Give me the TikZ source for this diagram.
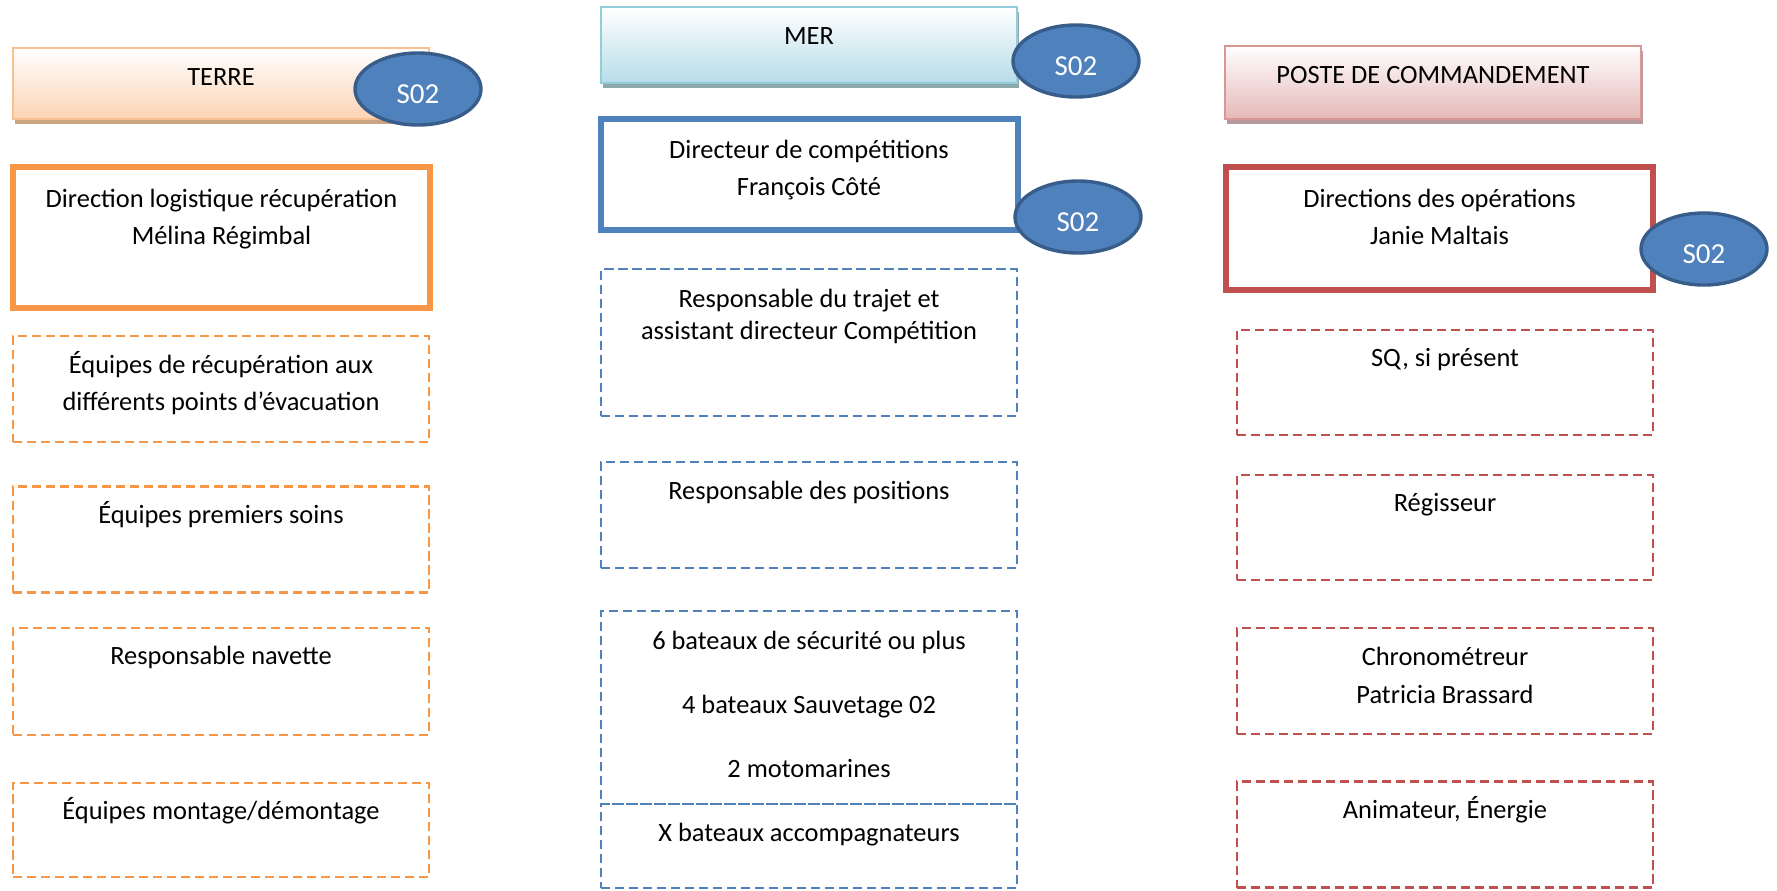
\documentclass[tikz,border=0pt]{standalone}
\usepackage{fontspec}
\setmainfont{Carlito}
\usetikzlibrary{shapes,shadows,positioning}
\definecolor{orgorange}{HTML}{F79646}
\definecolor{orgblue}{HTML}{4F81BD}
\definecolor{orgred}{HTML}{C0504D}
\definecolor{terreline}{HTML}{FAC08F}
\definecolor{terrefill}{HTML}{FBD4B4}
\definecolor{terreshadow}{HTML}{C9A584}
\definecolor{merline}{HTML}{92CDDC}
\definecolor{merfill}{HTML}{B6DDE8}
\definecolor{mershadow}{HTML}{8FA8AE}
\definecolor{pcline}{HTML}{D99694}
\definecolor{pcfill}{HTML}{E5B8B7}
\definecolor{pcshadow}{HTML}{B8999A}
\definecolor{sosline}{HTML}{385D8A}
\newcommand{\orgfont}{\fontsize{13.2pt}{16.2pt}\selectfont}
\tikzset{
    header/.style={
    rectangle,line width=1pt,minimum width=208pt,inner sep=0pt
    },
    hterre/.style={
    header,draw=terreline,top color=white,bottom color=terrefill,
    drop shadow={shadow xshift=1pt,shadow yshift=-2.5pt,fill=terreshadow,opacity=1}
    },
    hmer/.style={
    header,draw=merline,top color=white,bottom color=merfill,
    drop shadow={shadow xshift=1pt,shadow yshift=-2.5pt,fill=mershadow,opacity=1}
    },
    hpc/.style={
    header,draw=pcline,top color=white,bottom color=pcfill,
    drop shadow={shadow xshift=1pt,shadow yshift=-2.5pt,fill=pcshadow,opacity=1}
    },
    chief/.style={
    rectangle,line width=3pt,minimum width=208.5pt,inner sep=0pt
    },
    member/.style={
    rectangle,line width=1.1pt,dash pattern=on 4.6pt off 2.4pt,minimum width=208pt,inner sep=0pt
    },
    sos/.style={
    ellipse,draw=sosline,fill=orgblue,line width=1.7pt,minimum width=63pt,minimum height=36pt,
    inner sep=0pt,text=white,font=\fontsize{14.5pt}{16pt}\selectfont,text height=14.5pt,text depth=0pt
    },
    txt/.style={
    align=center,inner sep=0pt,font=\orgfont,execute at begin node=\strut
    },
    txtwide/.style={
    txt,font=\fontsize{13.2pt}{18.8pt}\selectfont
    },
}
\begin{document}
\begin{tikzpicture}[x=0.5pt,y=-0.5pt]
   \useasboundingbox (0,0) rectangle (1777,890);
   % terre
   \node[hterre,minimum height=35.5pt] (T) at (221,83.5) {};
   \node[chief,draw=orgorange,minimum height=70.5pt] (T0) at (221.5,237.5) {};
   \node[member,draw=orgorange,minimum height=53pt] (T1) at (221,388.7) {};
   \node[member,draw=orgorange,minimum height=53pt] (T2) at (221,539.5) {};
   \node[member,draw=orgorange,minimum height=53.5pt] (T3) at (221,681.5) {};
   \node[member,draw=orgorange,minimum height=47.2pt] (T4) at (221,830) {};
   \node[txt,below=7.9pt of T.north] (tT) {TERRE};
   \node[txtwide,below=12.3pt of T0.north] (tT0) {Direction logistique récupération\\Mélina Régimbal};
   \node[txtwide,below=8pt of T1.north] (tT1) {Équipes de récupération aux\\différents points d’évacuation};
   \node[txt,below=7.4pt of T2.north] (tT2) {Équipes premiers soins};
   \node[txt,below=7.4pt of T3.north] (tT3) {Responsable navette};
   \node[txt,below=7.4pt of T4.north] (tT4) {Équipes montage/démontage};
   % mer
   \node[hmer,minimum height=38pt] (M) at (809,45) {};
   \node[chief,draw=orgblue,minimum height=55.5pt] (M0) at (809,174.5) {};
   \node[member,draw=orgblue,minimum height=73.3pt] (M1) at (809,342.4) {};
   \node[member,draw=orgblue,minimum height=53pt] (M2) at (809,515) {};
   \node[member,draw=orgblue,minimum height=96.5pt] (M3) at (809,707.5) {};
   \node[member,draw=orgblue,minimum height=42pt] (M4) at (809,846) {};
   \node[txt,below=7.9pt of M.north] (tM) {MER};
   \node[txtwide,below=11.8pt of M0.north] (tM0) {Directeur de compétitions\\François Côté};
   \node[txt,below=10.2pt of M1.north] (tM1) {Responsable du trajet et\\assistant directeur Compétition};
   \node[txt,below=7.6pt of M2.north] (tM2) {Responsable des positions};
   \node[txt,below=10.6pt of M3.north] (tM3) {6 bateaux de sécurité ou plus\\[15.8pt]4 bateaux Sauvetage 02\\[15.8pt]2 motomarines};
   \node[txt,below=7.6pt of M4.north] (tM4) {X bateaux accompagnateurs};
   % poste de commandement
   \node[hpc,minimum height=36.5pt] (P) at (1433,82.5) {};
   \node[chief,draw=orgred,minimum width=213.5pt,minimum height=61.5pt] (P0) at (1439.5,228.5) {};
   \node[member,draw=orgred,minimum height=52.5pt] (P1) at (1445,382.5) {};
   \node[member,draw=orgred,minimum height=52.5pt] (P2) at (1445,527.5) {};
   \node[member,draw=orgred,minimum height=53pt] (P3) at (1445,681) {};
   \node[member,draw=orgred,minimum height=53pt] (P4) at (1445,834.5) {};
   \node[txt,below=7.9pt of P.north] (tP) {POSTE DE COMMANDEMENT};
   \node[txtwide,below=12.3pt of P0.north] (tP0) {Directions des opérations\\Janie Maltais};
   \node[txt,below=7.4pt of P1.north] (tP1) {SQ, si présent};
   \node[txt,below=7.4pt of P2.north] (tP2) {Régisseur};
   \node[txtwide,below=10.1pt of P3.north] (tP3) {Chronométreur\\Patricia Brassard};
   \node[txt,below=7.4pt of P4.north] (tP4) {Animateur, Énergie};
   % S02
   \node[sos] (sT) at (418,89) {S02};
   \node[sos] (sM) at (1076,61) {S02};
   \node[sos] (sM0) at (1078,217) {S02};
   \node[sos] (sP0) at (1704,249) {S02};
\end{tikzpicture}
\end{document}
